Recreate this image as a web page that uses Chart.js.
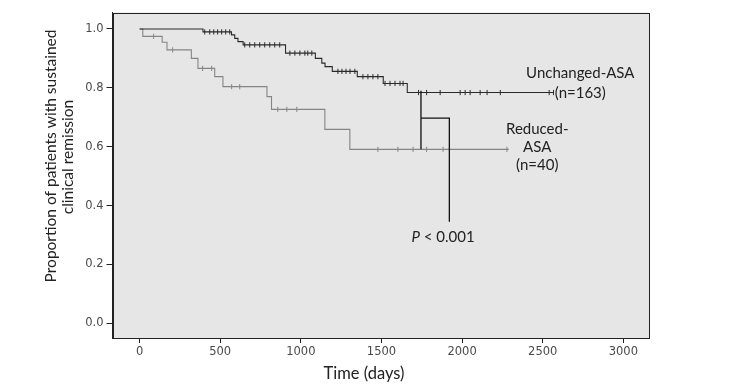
<!DOCTYPE html>
<html><head><meta charset="utf-8">
<script src="https://cdn.jsdelivr.net/npm/chart.js@4.4.1/dist/chart.umd.min.js"></script>
<style>html,body{margin:0;padding:0;background:#fff;}#wrap{width:730px;height:391px;}</style>
</head><body><div id="wrap"><canvas id="c" width="730" height="391"></canvas></div>
<script>
// ---- data ----
const xTicks = [0, 500, 1000, 1500, 2000, 2500, 3000];
const yTicks = [0.0, 0.2, 0.4, 0.6, 0.8, 1.0];

const unchangedDays = [0, 393, 570, 590, 610, 642, 905, 1090, 1130, 1150, 1195, 1350, 1511, 1660, 2567];
const unchangedSurv = [1.0, 0.99, 0.98, 0.968, 0.957, 0.946, 0.918, 0.90, 0.884, 0.872, 0.856, 0.838, 0.815, 0.784, 0.784];
const unchangedCensored = [404, 435, 460, 484, 509, 534, 559, 652, 683, 714, 745, 776, 807, 838, 869,
  932, 963, 994, 1025, 1043, 1068, 1230, 1255, 1280, 1305, 1335, 1385, 1416, 1447, 1478,
  1522, 1553, 1584, 1615, 1634, 1730, 1780, 1864, 1988, 2019, 2050, 2112, 2155, 2237, 2540, 2567];

const reducedDays = [0, 20, 140, 170, 321, 362, 466, 517, 790, 818, 1149, 1304, 2290];
const reducedSurv = [1.0, 0.975, 0.955, 0.929, 0.90, 0.866, 0.838, 0.804, 0.77, 0.727, 0.659, 0.591, 0.591];
const reducedCensored = [87, 205, 391, 447, 571, 621, 857, 913, 975, 1478, 1602, 1696, 1780, 1882, 2278];

const unchangedLabel = ['Unchanged-ASA', '(n=163)'];
const reducedLabel = ['Reduced-', 'ASA', '(n=40)'];
const pLabel = ['P', ' < 0.001'];

// ---- helpers ----
function stepValue(days, surv, t) {
  let v = surv[0];
  for (let i = 0; i < days.length; i++) if (days[i] <= t) v = surv[i];
  return v;
}
const pts = (d, s) => d.map((x, i) => ({x: x, y: s[i]}));
const censorPts = (c, d, s) => c.map(t => ({x: t, y: stepValue(d, s, t)}));

const AX = '#222';
const TICKFONT = {family: 'DejaVu Sans', size: 11.5};
const ANNFONT = '15px Lato';

// annotation placement (data coordinates)
const ann = {
  unchanged: {x: 2733, y: [0.849, 0.7825]},
  reduced: {x: 2466, y: [0.660, 0.599, 0.538]},
  p: {x: 1882, y: 0.293},
  bracket: {x1: 1745, x2: 1921, yTop: 0.79, yBot: 0.591, yMid: 0.697, yEnd: 0.345}
};

const deco = {
  id: 'deco',
  beforeDraw(chart) {
    const {ctx, chartArea: a} = chart;
    ctx.save();
    ctx.fillStyle = '#fff';
    ctx.fillRect(0, 0, chart.width, chart.height);
    ctx.fillStyle = '#e6e6e6';
    ctx.fillRect(a.left, a.top, a.right - a.left, a.bottom - a.top);
    ctx.restore();
  },
  afterDatasetsDraw(chart) {
    const {ctx, chartArea: a, scales: {x, y}} = chart;
    ctx.save();
    ctx.strokeStyle = AX; ctx.lineWidth = 1;
    ctx.strokeRect(Math.round(a.left) + 0.5, Math.round(a.top) + 0.5, Math.round(a.right - a.left) - 1, Math.round(a.bottom - a.top) - 1);
    const b = ann.bracket;
    ctx.strokeStyle = '#111'; ctx.lineWidth = 1.3;
    ctx.beginPath();
    ctx.moveTo(x.getPixelForValue(b.x1), y.getPixelForValue(b.yTop));
    ctx.lineTo(x.getPixelForValue(b.x1), y.getPixelForValue(b.yBot));
    ctx.moveTo(x.getPixelForValue(b.x1), y.getPixelForValue(b.yMid));
    ctx.lineTo(x.getPixelForValue(b.x2), y.getPixelForValue(b.yMid));
    ctx.lineTo(x.getPixelForValue(b.x2), y.getPixelForValue(b.yEnd));
    ctx.stroke();
    ctx.fillStyle = '#222';
    ctx.font = ANNFONT;
    ctx.textAlign = 'center'; ctx.textBaseline = 'middle';
    unchangedLabel.forEach((t, i) => ctx.fillText(t, x.getPixelForValue(ann.unchanged.x), y.getPixelForValue(ann.unchanged.y[i])));
    reducedLabel.forEach((t, i) => ctx.fillText(t, x.getPixelForValue(ann.reduced.x), y.getPixelForValue(ann.reduced.y[i])));
    const px = x.getPixelForValue(ann.p.x), py = y.getPixelForValue(ann.p.y);
    ctx.font = 'italic ' + ANNFONT;
    const w1 = ctx.measureText(pLabel[0]).width;
    ctx.font = ANNFONT;
    const w2 = ctx.measureText(pLabel[1]).width;
    const sx = px - (w1 + w2) / 2;
    ctx.textAlign = 'left';
    ctx.font = 'italic ' + ANNFONT;
    ctx.fillText(pLabel[0], sx, py);
    ctx.font = ANNFONT;
    ctx.fillText(pLabel[1], sx + w1, py);
    ctx.restore();
  },
  afterDraw(chart) {
    const {ctx} = chart;
    ctx.save();
    ctx.fillStyle = '#222';
    ctx.textAlign = 'center'; ctx.textBaseline = 'middle';
    ctx.font = '16.5px Lato';
    ctx.fillText('Time (days)', 364, 374);
    ctx.font = '15.5px Lato';
    ctx.save();
    ctx.translate(51, 156); ctx.rotate(-Math.PI / 2);
    ctx.fillText('Proportion of patients with sustained', 0, 0);
    ctx.restore();
    ctx.save();
    ctx.translate(68, 157); ctx.rotate(-Math.PI / 2);
    ctx.fillText('clinical remission', 0, 0);
    ctx.restore();
    ctx.restore();
  }
};

new Chart(document.getElementById('c'), {
  type: 'line',
  data: {
    datasets: [
      {label: 'Unchanged-ASA', data: pts(unchangedDays, unchangedSurv), stepped: 'before', borderColor: '#2a2a2a', borderWidth: 1.1, pointRadius: 0, fill: false},
      {label: 'Reduced-ASA', data: pts(reducedDays, reducedSurv), stepped: 'before', borderColor: '#858585', borderWidth: 1.1, pointRadius: 0, fill: false},
      {type: 'scatter', label: 'Unchanged censored', data: censorPts(unchangedCensored, unchangedDays, unchangedSurv), showLine: false, pointStyle: 'line', rotation: 90, radius: 2.6, borderColor: '#2a2a2a', borderWidth: 1},
      {type: 'scatter', label: 'Reduced censored', data: censorPts(reducedCensored, reducedDays, reducedSurv), showLine: false, pointStyle: 'line', rotation: 90, radius: 2.6, borderColor: '#858585', borderWidth: 1}
    ]
  },
  options: {
    responsive: false, animation: false, devicePixelRatio: 1,
    layout: {padding: {top: 12.5, right: 80.7, left: 0, bottom: 0}},
    plugins: {legend: {display: false}, tooltip: {enabled: false}},
    elements: {line: {tension: 0}},
    scales: {
      x: {
        type: 'linear', min: -168, max: 3161,
        afterBuildTicks: s => { s.ticks = xTicks.map(v => ({value: v})); },
        afterFit: s => { s.height = 53; },
        ticks: {font: TICKFONT, color: '#4a4a4a', padding: 2, maxRotation: 0, autoSkip: false, callback: v => String(v)},
        grid: {drawOnChartArea: false, drawTicks: true, tickLength: 5, color: AX},
        border: {display: true, color: AX}
      },
      y: {
        type: 'linear', min: -0.05, max: 1.056,
        afterBuildTicks: s => { s.ticks = yTicks.map(v => ({value: v})); },
        afterFit: s => { s.width = 112.5; },
        ticks: {font: TICKFONT, color: '#4a4a4a', padding: 3, callback: v => Number(v).toFixed(1)},
        grid: {drawOnChartArea: false, drawTicks: true, tickLength: 6, color: AX},
        border: {display: true, color: AX}
      }
    }
  },
  plugins: [deco]
});
</script>
</body></html>
